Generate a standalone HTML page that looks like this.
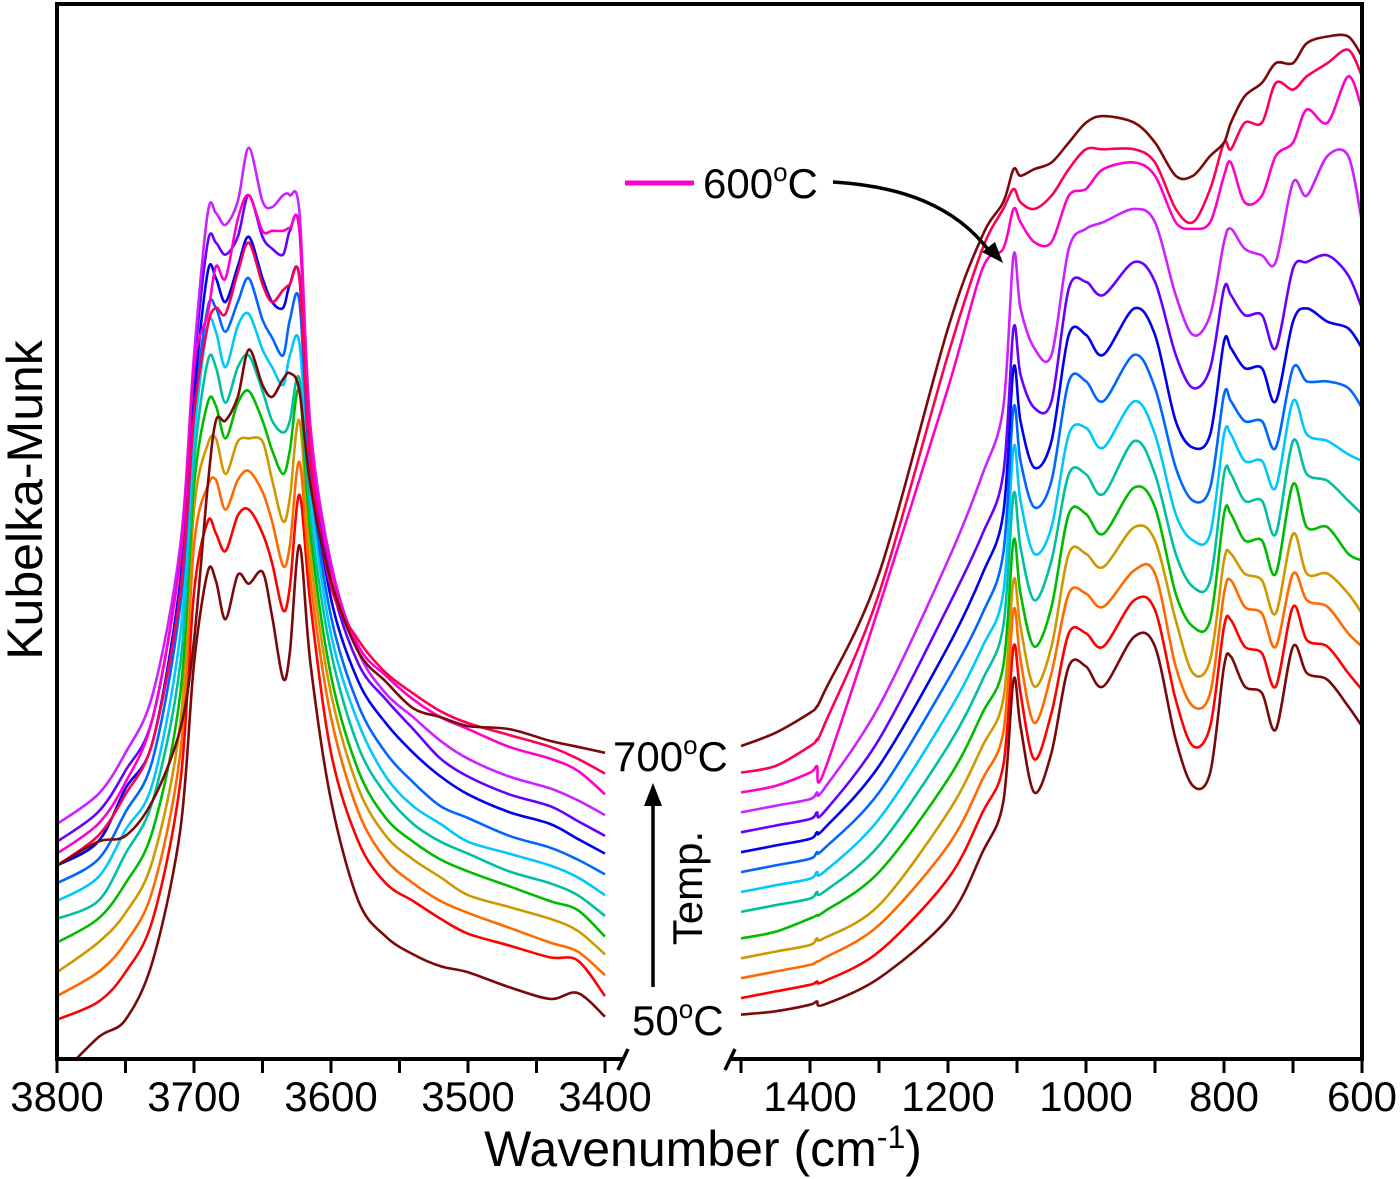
<!DOCTYPE html>
<html><head><meta charset="utf-8"><style>
html,body{margin:0;padding:0;background:#fff;}
svg{display:block;font-family:"Liberation Sans",Arial,sans-serif;}
</style></head><body>
<svg id="chart" width="1400" height="1179" viewBox="0 0 1400 1179" xmlns="http://www.w3.org/2000/svg">
<defs>
<clipPath id="clipL"><rect x="57" y="4" width="560" height="1055"/></clipPath>
<clipPath id="clipR"><rect x="735" y="4" width="627" height="1055"/></clipPath>
</defs>
<g id="curvesL" clip-path="url(#clipL)"></g>
<g id="curvesR" clip-path="url(#clipR)"></g>
<g id="axes"></g>
<text transform="translate(42,500) rotate(-90)" text-anchor="middle" font-size="50">Kubelka-Munk</text>
<text x="703" y="1166" text-anchor="middle" font-size="50">Wavenumber (cm<tspan dy="-18" font-size="32">-1</tspan><tspan dy="18">)</tspan></text>
<g><text x="613" y="771" font-size="42">700<tspan dy="-17" font-size="26">o</tspan><tspan dy="17">C</tspan></text></g>
<g><text x="632" y="1035" font-size="42">50<tspan dy="-17" font-size="26">o</tspan><tspan dy="17">C</tspan></text></g>
<g>
<line x1="653" y1="987" x2="653" y2="800" stroke="#000" stroke-width="3.5"/>
<polygon points="653,783 644,806 662,806" fill="#000"/>
</g>
<text transform="translate(702,888) rotate(-90)" text-anchor="middle" font-size="42">Temp.</text>
<g>
<line x1="625" y1="183" x2="694" y2="183" stroke="#ff00cc" stroke-width="5"/>
<text x="703" y="198" font-size="42">600<tspan dy="-17" font-size="26">o</tspan><tspan dy="17">C</tspan></text>
<path d="M833,182 C900,186 955,205 990,252" fill="none" stroke="#000" stroke-width="3.5"/>
<polygon points="1003,263 982,252 995,242" fill="#000"/>
</g>
</svg>
<script>
// Left panel (O-H stretch) wavenumbers
const wnL = [3800,3770,3750,3730,3710,3700,3690,3684,3677,3668,3660,3650,3643,3635,3630,3623,3615,3600,3580,3560,3540,3520,3500,3470,3440,3420,3400];
// Right panel wavenumbers
const wnR = [1500,1450,1400,1390,1380,1300,1200,1150,1120,1105,1095,1075,1050,1025,1000,975,930,900,870,845,820,800,790,770,745,725,700,680,650,620,600];
const temps = ["50","100","150","200","250","300","350","400","450","500","550","600","650","700"];
const colors = ["#7a0a0a","#ff0000","#ff6a00","#cc9900","#00bb00","#00c0a0","#00c8ff","#0066ff","#0000ee","#6600ff","#cc22ff","#ff00cc","#ff0055","#7a0a0a"];
// KM intensities (a.u.), left region
const L0 = [0,70,100,200,420,700,855,840,775,850,835,855,780,675,720,900,700,470,300,240,210,190,180,155,135,145,105];
const L1 = [100,130,180,270,500,820,940,920,890,950,960,920,870,790,830,985,800,550,400,330,300,270,245,225,205,200,140];
const L2 = [140,180,230,320,550,900,1000,1010,960,1010,1025,990,940,865,900,1040,840,610,450,370,330,300,280,255,230,215,175];
const L3 = [180,230,280,370,600,960,1070,1080,1020,1075,1080,1075,1010,940,980,1110,880,650,490,410,370,340,310,290,270,250,210];
const L4 = [230,270,330,420,650,1000,1140,1135,1080,1140,1160,1110,1060,1020,1060,1160,920,680,520,440,400,370,350,325,300,285,240];
const L5 = [270,300,380,470,700,1040,1210,1200,1140,1200,1220,1160,1110,1090,1110,1180,950,720,560,480,430,400,380,350,330,310,275];
const L6 = [300,340,420,500,750,1080,1270,1260,1200,1270,1290,1230,1200,1170,1220,1240,990,750,600,510,460,430,400,380,360,340,310];
const L7 = [330,370,450,540,800,1120,1300,1300,1260,1310,1350,1280,1250,1220,1280,1310,1020,780,630,550,500,460,440,410,390,370,345];
const L8 = [360,400,490,570,840,1150,1360,1350,1310,1370,1420,1350,1310,1300,1340,1350,1050,810,670,600,550,510,480,450,430,405,380];
const L9 = [400,450,520,610,880,1200,1410,1410,1390,1420,1490,1420,1400,1390,1430,1430,1070,840,700,640,590,540,510,480,460,435,410];
const L10 = [430,480,550,650,900,1220,1460,1460,1440,1480,1570,1480,1470,1490,1490,1460,1100,870,720,650,610,570,540,510,490,470,445];
const L11 = [380,430,500,610,880,1200,1290,1370,1350,1450,1490,1430,1430,1430,1435,1430,1080,860,730,680,640,610,590,560,540,520,480];
const L12 = [360,410,480,570,820,1120,1270,1300,1290,1360,1410,1340,1310,1330,1340,1350,1040,830,740,685,650,620,600,580,560,540,515];
const L13 = [360,400,410,470,590,740,1000,1110,1110,1150,1230,1170,1150,1180,1190,1160,1000,840,720,670,625,610,595,590,570,560,550];
// KM intensities (a.u.), right region
const R0 = [85,90,100,105,100,140,230,330,405,590,520,420,480,610,610,580,655,640,500,430,450,610,625,580,570,515,640,600,590,550,520];
const R1 = [110,120,130,135,135,180,290,390,460,640,570,470,540,660,660,640,710,695,560,490,520,670,680,640,630,580,700,650,640,600,575];
const R2 = [140,150,160,165,170,220,340,440,510,695,620,525,600,720,720,700,755,750,610,550,570,720,740,700,690,640,750,710,700,660,640];
const R3 = [170,180,190,200,200,250,390,490,560,740,670,580,640,780,780,760,820,800,680,600,620,770,780,750,740,690,810,750,750,720,690];
const R4 = [200,210,230,235,240,300,440,540,610,800,720,640,700,840,840,810,880,850,720,670,680,840,840,800,800,750,885,820,820,780,770];
const R5 = [240,250,260,270,270,340,490,590,670,870,790,710,770,900,900,870,950,900,780,730,740,900,900,860,860,810,950,900,890,860,840];
const R6 = [270,280,290,300,300,380,540,640,720,940,860,780,820,960,970,940,1010,960,840,800,810,960,960,920,920,880,1010,960,950,930,920];
const R7 = [300,310,320,330,335,420,590,690,780,1000,920,850,890,1040,1040,1010,1080,1030,910,860,880,1020,1010,980,980,940,1060,1040,1040,1030,1000];
const R8 = [330,340,350,360,365,460,640,750,840,1060,980,910,950,1110,1110,1080,1150,1110,980,940,960,1100,1090,1060,1060,1010,1130,1150,1130,1120,1090];
const R9 = [360,370,380,390,390,500,700,810,900,1120,1050,1000,1010,1180,1190,1170,1220,1190,1080,1030,1060,1180,1170,1140,1140,1090,1210,1220,1230,1200,1150];
const R10 = [390,400,410,420,425,550,770,900,1000,1230,1150,1090,1080,1240,1270,1280,1300,1280,1170,1110,1140,1250,1270,1240,1230,1220,1340,1320,1380,1380,1280];
const R11 = [420,430,450,460,450,700,1030,1210,1240,1300,1280,1250,1250,1320,1330,1360,1370,1350,1280,1270,1280,1350,1370,1310,1320,1380,1400,1450,1430,1500,1450];
const R12 = [450,460,490,500,520,720,1080,1240,1300,1330,1310,1300,1320,1360,1390,1390,1390,1370,1300,1280,1330,1400,1390,1430,1430,1490,1480,1500,1520,1540,1500];
const R13 = [490,510,540,550,570,750,1120,1260,1310,1360,1350,1360,1370,1400,1430,1440,1430,1400,1350,1350,1380,1400,1430,1470,1490,1520,1520,1550,1560,1560,1530];
const seriesL = [L0,L1,L2,L3,L4,L5,L6,L7,L8,L9,L10,L11,L12,L13];
const seriesR = [R0,R1,R2,R3,R4,R5,R6,R7,R8,R9,R10,R11,R12,R13];
const ticksL = [3800,3750,3700,3650,3600,3550,3500,3450,3400];
const labelsL = [3800,3700,3600,3500,3400];
const ticksR = [1500,1400,1300,1200,1100,1000,900,800,700,600];
const labelsR = [1400,1200,1000,800,600];

const NS = "http://www.w3.org/2000/svg";
function xL(w){ return 57 + (3800 - w) * 1.37; }
function xR(w){ return 741 + (1500 - w) * 0.69; }
function yL(v){ return 130 + (1600 - v) / 1.686; }
function yR(v){ return 10 + (1600 - v) / 1.508; }
function smoothPath(pts){
  let d = "M" + pts[0][0].toFixed(1) + "," + pts[0][1].toFixed(1);
  for (let i = 0; i < pts.length - 1; i++) {
    const p0 = pts[Math.max(0, i - 1)], p1 = pts[i], p2 = pts[i + 1], p3 = pts[Math.min(pts.length - 1, i + 2)];
    const t = 0.16;
    const c1x = p1[0] + (p2[0] - p0[0]) * t, c1y = p1[1] + (p2[1] - p0[1]) * t;
    const c2x = p2[0] - (p3[0] - p1[0]) * t, c2y = p2[1] - (p3[1] - p1[1]) * t;
    d += " C" + c1x.toFixed(1) + "," + c1y.toFixed(1) + " " + c2x.toFixed(1) + "," + c2y.toFixed(1) + " " + p2[0].toFixed(1) + "," + p2[1].toFixed(1);
  }
  return d;
}
const gL = document.getElementById("curvesL");
const gR = document.getElementById("curvesR");
for (let k = 0; k < seriesL.length; k++) {
  const pl = document.createElementNS(NS, "path");
  pl.setAttribute("d", smoothPath(wnL.map((w, i) => [xL(w), yL(seriesL[k][i])])));
  pl.setAttribute("fill", "none");
  pl.setAttribute("stroke", colors[k]);
  pl.setAttribute("stroke-width", "2.6");
  
  
  gL.appendChild(pl);
  const pr = document.createElementNS(NS, "path");
  pr.setAttribute("d", smoothPath(wnR.map((w, i) => [xR(w), yR(seriesR[k][i])])));
  pr.setAttribute("fill", "none");
  pr.setAttribute("stroke", colors[k]);
  pr.setAttribute("stroke-width", "2.6");
  
  
  gR.appendChild(pr);
}
const ax = document.getElementById("axes");
function add(tag, attrs, name, text){
  const e = document.createElementNS(NS, tag);
  for (const k in attrs) e.setAttribute(k, attrs[k]);
  if (text !== undefined) e.textContent = text;
  
  
  ax.appendChild(e);
  return e;
}
add("path", {d:"M57,1059 L57,4 L1362,4 L1362,1059", fill:"none", stroke:"#000", "stroke-width":"4"}, "plot-frame");
add("line", {x1:55, y1:1059, x2:624, y2:1059, stroke:"#000", "stroke-width":"4"}, "x-axis-left");
add("line", {x1:730, y1:1059, x2:1364, y2:1059, stroke:"#000", "stroke-width":"4"}, "x-axis-right");
add("line", {x1:618, y1:1070, x2:628, y2:1049, stroke:"#000", "stroke-width":"3.5"}, "axis-break-left");
add("line", {x1:725, y1:1070, x2:735, y2:1049, stroke:"#000", "stroke-width":"3.5"}, "axis-break-right");
ticksL.forEach(t => {
  add("line", {x1:xL(t), y1:1059, x2:xL(t), y2:1073, stroke:"#000", "stroke-width":"3"}, "x-tick-" + t);
});
ticksR.forEach(t => {
  add("line", {x1:xR(t), y1:1059, x2:xR(t), y2:1073, stroke:"#000", "stroke-width":"3"}, "x-tick-" + t);
});
labelsL.forEach(t => {
  add("text", {x:xL(t), y:1111, "text-anchor":"middle", "font-size":"42"}, "x-tick-label-" + t, String(t));
});
labelsR.forEach(t => {
  add("text", {x:xR(t), y:1111, "text-anchor":"middle", "font-size":"42"}, "x-tick-label-" + t, String(t));
});
</script>
</body></html>
